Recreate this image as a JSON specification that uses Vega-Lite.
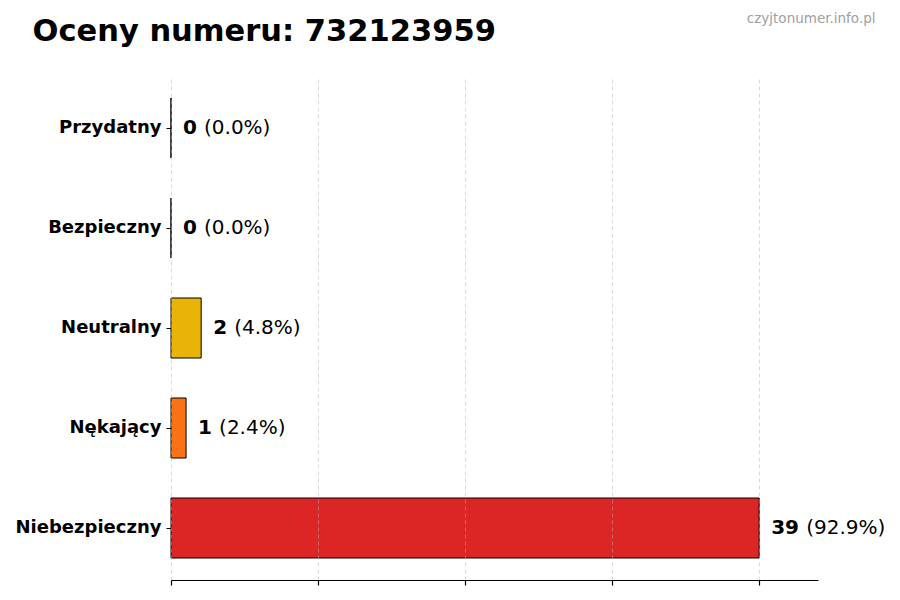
{
  "$schema": "https://vega.github.io/schema/vega-lite/v6.json",
  "autosize": {"type": "none"},
  "padding": {"left": 171, "top": 76, "right": 82, "bottom": 20},
  "width": 647,
  "height": 504,
  "background": "white",
  "data": {
    "values": [
      {"category": "Przydatny", "count": 0, "pct": "(0.0%)"},
      {"category": "Bezpieczny", "count": 0, "pct": "(0.0%)"},
      {"category": "Neutralny", "count": 2, "pct": "(4.8%)"},
      {"category": "Nękający", "count": 1, "pct": "(2.4%)"},
      {"category": "Niebezpieczny", "count": 39, "pct": "(92.9%)"}
    ]
  },
  "encoding": {
    "y": {
      "field": "category",
      "type": "nominal",
      "sort": null,
      "scale": {"paddingInner": 0.4, "paddingOuter": 0.22},
      "axis": {
        "title": "Oceny numeru: 732123959",
        "titleX": -139,
        "titleY": -36,
        "titleAngle": 0,
        "titleAlign": "left",
        "titleBaseline": "alphabetic",
        "titleFontSize": 30.5,
        "titleFontWeight": "bold",
        "titleColor": "black",
        "domain": false,
        "tickSize": 5,
        "tickColor": "black",
        "labelPadding": 5,
        "labelFontSize": 18,
        "labelFontWeight": "bold",
        "labelColor": "black"
      }
    },
    "x": {
      "field": "count",
      "type": "quantitative",
      "scale": {"domain": [0, 42.9], "nice": false, "zero": true},
      "axis": {
        "values": [0, 9.75, 19.5, 29.25, 39],
        "labels": false,
        "zindex": 1,
        "domainColor": "black",
        "domainWidth": 1.2,
        "tickColor": "black",
        "tickSize": 5,
        "tickWidth": 1.2,
        "grid": true,
        "gridColor": "#b0b0b0",
        "gridOpacity": 0.6,
        "gridDash": [4, 3],
        "gridWidth": 0.8,
        "title": "czyjtonumer.info.pl",
        "titleX": 704,
        "titleY": -558,
        "titleAlign": "right",
        "titleBaseline": "alphabetic",
        "titleFontSize": 13.5,
        "titleFontWeight": "normal",
        "titleColor": "#a0a0a0"
      }
    }
  },
  "layer": [
    {
      "mark": {"type": "bar", "stroke": "black", "strokeWidth": 1},
      "encoding": {
        "color": {
          "field": "category",
          "type": "nominal",
          "legend": null,
          "scale": {
            "domain": ["Przydatny", "Bezpieczny", "Neutralny", "Nękający", "Niebezpieczny"],
            "range": ["#16a34a", "#22c55e", "#eab308", "#f97316", "#dc2626"]
          }
        }
      }
    },
    {
      "mark": {"type": "text", "align": "left", "baseline": "middle", "dx": 12, "fontSize": 20, "fontWeight": "bold", "color": "black"},
      "encoding": {
        "text": {"field": "count", "type": "quantitative", "format": "d"}
      }
    },
    {
      "transform": [{"filter": "datum.count < 10"}],
      "mark": {"type": "text", "align": "left", "baseline": "middle", "dx": 33, "fontSize": 20, "fontWeight": "normal", "color": "black"},
      "encoding": {
        "text": {"field": "pct", "type": "nominal"}
      }
    },
    {
      "transform": [{"filter": "datum.count >= 10"}],
      "mark": {"type": "text", "align": "left", "baseline": "middle", "dx": 47, "fontSize": 20, "fontWeight": "normal", "color": "black"},
      "encoding": {
        "text": {"field": "pct", "type": "nominal"}
      }
    }
  ],
  "config": {
    "font": "DejaVu Sans",
    "view": {"stroke": null}
  }
}
